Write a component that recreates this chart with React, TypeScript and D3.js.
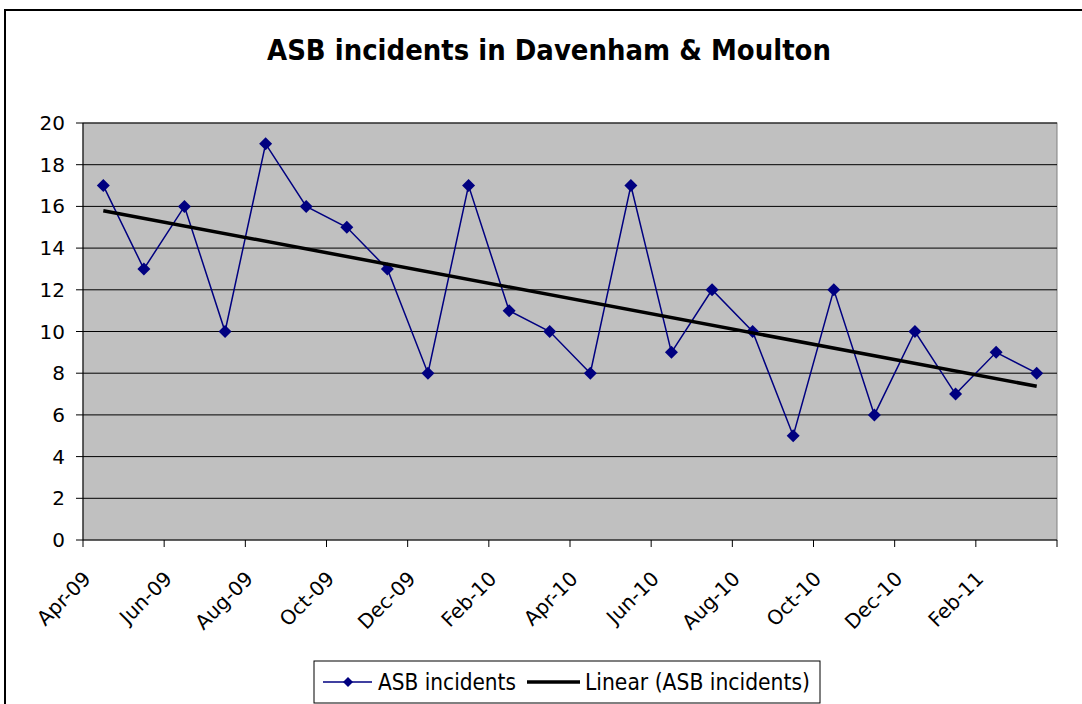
import React from "react";
import * as d3 from "d3";

// monthly counts, Apr-09 .. Mar-11
const months = [
  "Apr-09", "May-09", "Jun-09", "Jul-09", "Aug-09", "Sep-09", "Oct-09", "Nov-09",
  "Dec-09", "Jan-10", "Feb-10", "Mar-10", "Apr-10", "May-10", "Jun-10", "Jul-10",
  "Aug-10", "Sep-10", "Oct-10", "Nov-10", "Dec-10", "Jan-11", "Feb-11", "Mar-11",
];
const incidents = [17, 13, 16, 10, 19, 16, 15, 13, 8, 17, 11, 10, 8, 17, 9, 12, 10, 5, 12, 6, 10, 7, 9, 8];
const yTicks = [0, 2, 4, 6, 8, 10, 12, 14, 16, 18, 20];
const title = "ASB incidents in Davenham & Moulton";
const seriesName = "ASB incidents";
const trendName = "Linear (ASB incidents)";

const font = "'DejaVu Sans', Verdana, sans-serif";

export default function App() {
  const left = 83, right = 1057, top = 123, bottom = 540;

  const x = d3.scaleLinear().domain([0, months.length]).range([left, right]);
  const y = d3.scaleLinear().domain([0, 20]).range([bottom, top]);

  const pts = incidents.map((v, i) => ({ i, v }));

  // least squares trend
  const n = incidents.length;
  const mx = d3.mean(pts, (d) => d.i) as number;
  const my = d3.mean(pts, (d) => d.v) as number;
  const slope =
    d3.sum(pts, (d) => (d.i - mx) * (d.v - my)) / d3.sum(pts, (d) => (d.i - mx) * (d.i - mx));
  const icpt = my - slope * mx;

  const line = d3
    .line<{ i: number; v: number }>()
    .x((d) => x(d.i + 0.5))
    .y((d) => y(d.v));

  const diamond = (cx: number, cy: number, r = 6.5) =>
    `M${cx},${cy - r}L${cx + r},${cy}L${cx},${cy + r}L${cx - r},${cy}Z`;

  const tickIdx = d3.range(0, months.length + 1, 2);

  return (
    <div style={{ position: "absolute", left: 0, top: 0 }}>
      <svg width={1082} height={704} style={{ display: "block", background: "#fff" }}>
        <rect x={5} y={10} width={1200} height={800} fill="#fff" stroke="#000" strokeWidth={2} />

        <text
          x={549}
          y={60}
          textAnchor="middle"
          fontFamily={font}
          fontWeight="bold"
          fontSize={29}
          textLength={564}
          lengthAdjust="spacingAndGlyphs"
        >
          {title}
        </text>

        <rect x={left} y={top} width={right - left} height={bottom - top} fill="#c0c0c0" stroke="#808080" strokeWidth={1} />

        {yTicks.map((t) => (
          <g key={t}>
            {t > 0 && <line x1={left} x2={right} y1={y(t)} y2={y(t)} stroke="#000" strokeWidth={1} />}
            <line x1={left - 7} x2={left} y1={y(t)} y2={y(t)} stroke="#000" />
            <text x={65} y={y(t) + 7} textAnchor="end" fontFamily={font} fontSize={20}>
              {t}
            </text>
          </g>
        ))}

        <line x1={left} x2={left} y1={top} y2={bottom} stroke="#000" />
        <line x1={left} x2={right} y1={bottom} y2={bottom} stroke="#000" />

        {tickIdx.map((k) => (
          <g key={k}>
            <line x1={x(k)} x2={x(k)} y1={bottom} y2={bottom + 7} stroke="#000" />
            {k < months.length && (
              <text
                transform={`translate(${x(k) + 9},${bottom + 40}) rotate(-45)`}
                textAnchor="end"
                fontFamily={font}
                fontSize={20}
              >
                {months[k]}
              </text>
            )}
          </g>
        ))}

        <path d={line(pts) as string} fill="none" stroke="#000080" strokeWidth={1.5} />
        {pts.map((d) => (
          <path key={d.i} d={diamond(x(d.i + 0.5), y(d.v))} fill="#000080" />
        ))}

        <line
          x1={x(0.5)}
          x2={x(n - 0.5)}
          y1={y(icpt)}
          y2={y(icpt + slope * (n - 1))}
          stroke="#000"
          strokeWidth={3.5}
        />

        {/* legend */}
        <rect x={314} y={661} width={506} height={42} fill="#fff" stroke="#000" strokeWidth={1} />
        <line x1={323} x2={372} y1={682} y2={682} stroke="#000080" strokeWidth={1.5} />
        <path d={diamond(348, 682, 5)} fill="#000080" />
        <text x={378} y={690} fontFamily={font} fontSize={23} textLength={138} lengthAdjust="spacingAndGlyphs">
          {seriesName}
        </text>
        <line x1={527} x2={580} y1={682} y2={682} stroke="#000" strokeWidth={3.5} />
        <text x={585} y={690} fontFamily={font} fontSize={23} textLength={225} lengthAdjust="spacingAndGlyphs">
          {trendName}
        </text>
      </svg>
    </div>
  );
}
